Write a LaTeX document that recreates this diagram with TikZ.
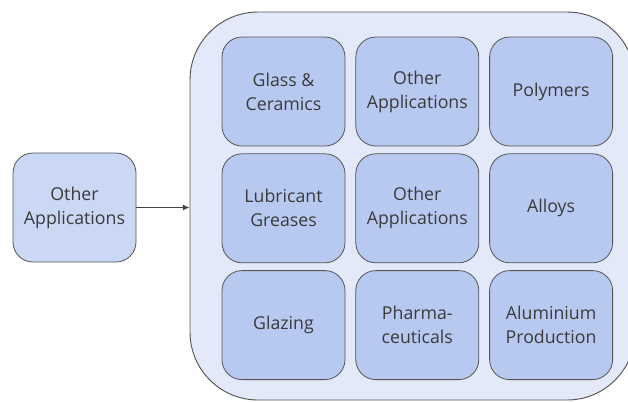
\documentclass[tikz,border=0pt]{standalone}
\usepackage{fontspec}
\setmainfont{Open Sans}
\usetikzlibrary{positioning, arrows.meta}
\definecolor{apOuter}{HTML}{E3E9F8}
\definecolor{apInner}{HTML}{B8C9F1}
\definecolor{apLeft}{HTML}{CBD8F5}
\definecolor{apLine}{HTML}{555555}
\definecolor{apText}{HTML}{3A3A3A}
\begin{document}
\begin{tikzpicture}[x=0.75pt, y=-0.75pt,
  every node/.style={font=\fontsize{13.3}{18}\selectfont, align=center, text=apText},
  panel/.style={
    rectangle, rounded corners=51pt,
    draw=apLine, fill=apOuter, line width=0.7pt,
    minimum width=333.75pt, minimum height=291pt
  },
  appbox/.style={
    rectangle, rounded corners=15pt,
    draw=apLine, fill=apInner, line width=0.6pt,
    minimum width=92.25pt, minimum height=81.75pt
  },
  srcbox/.style={appbox, fill=apLeft},
  arrow/.style={-{Latex[length=5pt, width=4.5pt]}, line width=0.8pt, draw=apLine!80!black}
]
 \useasboundingbox (0,0) rectangle (628,401);
 \clip (0,0) rectangle (628,401);

 % Outer panel (runs off the right edge)
 \node[panel] (grp) at (412.5, 206) {};

 % Source node
 \node[srcbox] (src) at (74.5, 207.5) {Other\\Applications};

 % Row 1
 \node[appbox] (a1) at (283.5, 91.5) {Glass \&\\Ceramics};
 \node[appbox, right=7.5pt of a1] (a2) {Other\\Applications};
 \node[appbox, right=7.5pt of a2] (a3) {Polymers};

 % Row 2
 \node[appbox, below=5.25pt of a1] (b1) {Lubricant\\Greases};
 \node[appbox, right=7.5pt of b1] (b2) {Other\\Applications};
 \node[appbox, right=7.5pt of b2] (b3) {Alloys};

 % Row 3
 \node[appbox, below=5.25pt of b1] (c1) {Glazing};
 \node[appbox, right=7.5pt of c1] (c2) {Pharma-\\ceuticals};
 \node[appbox, right=7.5pt of c2] (c3) {Aluminium\\Production};

 \draw[arrow] (src.east) -- (src.east -| grp.west);
\end{tikzpicture}
\end{document}
